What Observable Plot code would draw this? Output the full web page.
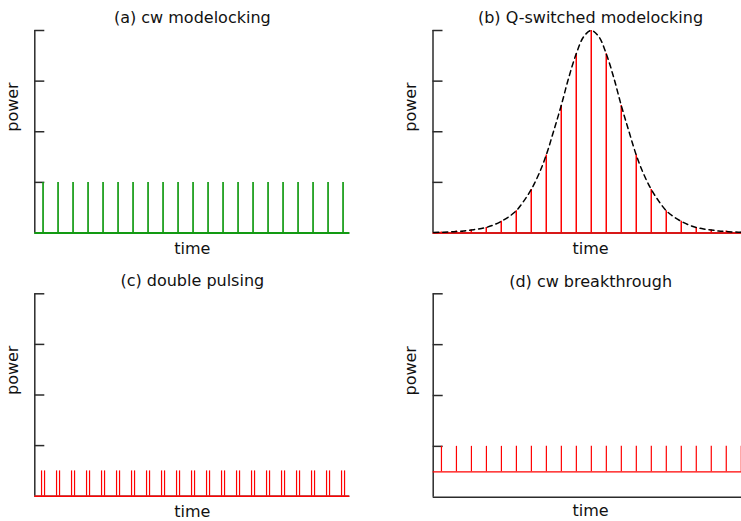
<!DOCTYPE html>
<html>
<head>
<meta charset="utf-8">
<script src="https://cdn.jsdelivr.net/npm/d3@7"></script>
<script src="https://cdn.jsdelivr.net/npm/@observablehq/plot@0.6"></script>
<style>
html, body { margin: 0; padding: 0; background: #fff; }
#root { position: relative; width: 741px; height: 521px; overflow: hidden; background: #fff; }
#root > svg { position: absolute; }
</style>
</head>
<body>
<div id="root"></div>
<script>
// ---- data ----
const titles = ["(a) cw modelocking", "(b) Q-switched modelocking", "(c) double pulsing", "(d) cw breakthrough"];
const xLabel = "time";
const yLabel = "power";
const yTicks = [1, 2, 3, 4];

// pulse arrival times (pulse-period units)
const pulseTimes = [0.55, 1.55, 2.55, 3.55, 4.55, 5.55, 6.55, 7.55, 8.55, 9.55, 10.55,
                    11.55, 12.55, 13.55, 14.55, 15.55, 16.55, 17.55, 18.55, 19.55, 20.55];

// (a) cw modelocking: equal pulses
const cwHeights = [1, 1, 1, 1, 1, 1, 1, 1, 1, 1, 1, 1, 1, 1, 1, 1, 1, 1, 1, 1, 1];

// (b) Q-switched modelocking: pulse peaks
const qsHeights = [0.02, 0.04, 0.06, 0.11, 0.23, 0.44, 0.86, 1.54, 2.52, 3.54, 4.00,
                   3.54, 2.52, 1.54, 0.86, 0.44, 0.23, 0.11, 0.06, 0.04, 0.02];
// (b) dashed envelope, read every half period
const envTimes = [0.05, 0.55, 1.05, 1.55, 2.05, 2.55, 3.05, 3.55, 4.05, 4.55, 5.05, 5.55, 6.05, 6.55,
                  7.05, 7.55, 8.05, 8.55, 9.05, 9.55, 10.05, 10.55, 11.05, 11.55, 12.05, 12.55, 13.05,
                  13.55, 14.05, 14.55, 15.05, 15.55, 16.05, 16.55, 17.05, 17.55, 18.05, 18.55, 19.05,
                  19.55, 20.05, 20.55, 21.05];
const envValues = [0.01, 0.015, 0.02, 0.03, 0.04, 0.06, 0.08, 0.11, 0.16, 0.23, 0.32, 0.44, 0.63, 0.86,
                   1.16, 1.54, 2.02, 2.52, 3.07, 3.54, 3.88, 4.00, 3.88, 3.54, 3.07, 2.52, 2.02,
                   1.54, 1.16, 0.86, 0.63, 0.44, 0.32, 0.23, 0.16, 0.11, 0.08, 0.06, 0.04,
                   0.03, 0.02, 0.015, 0.01];

// (c) double pulsing: two spikes per period
const doubleSeparation = 0.2;
const doubleHeight = 0.5;

// (d) cw breakthrough: cw background plus pulses
const cwBackground = 0.5;
const breakPeak = 1.0;

// ---- drawing ----
const root = document.getElementById("root");
const axisColor = "#2b2b2b";
const green = "#129a12";
const red = "#ff0000";

const cwData = pulseTimes.map((t, i) => ({t, p: cwHeights[i]}));
const qsData = pulseTimes.map((t, i) => ({t, p: qsHeights[i]}));
const envData = envTimes.map((t, i) => ({t, p: envValues[i]}));
const dblData = pulseTimes.flatMap(t => [t - doubleSeparation / 2, t + doubleSeparation / 2]);

function panel({title, left, top, width, height, ml, mr, mt, mb, titleDy, labelDy, marks}) {
  const svg = Plot.plot({
    width, height,
    marginLeft: ml, marginRight: mr, marginTop: mt, marginBottom: mb,
    x: {domain: [0, 21], axis: null},
    y: {domain: [0, 4]},
    style: {fontFamily: "'DejaVu Sans', sans-serif", fontSize: "16px", color: "#111", background: "transparent", overflow: "visible"},
    marks: [
      Plot.axisY(yTicks, {tickSize: -10, tickFormat: () => "", stroke: axisColor, strokeWidth: 1.5, label: null}),
      Plot.ruleX([0], {stroke: axisColor, strokeWidth: 1.5}),
      Plot.ruleY([0], {stroke: axisColor, strokeWidth: 1.5}),
      ...marks,
      Plot.text([title], {text: d => d, frameAnchor: "top", lineAnchor: "bottom", dy: titleDy, fontSize: 16, fill: "#111"}),
      Plot.text([xLabel], {text: d => d, frameAnchor: "bottom", lineAnchor: "bottom", dy: labelDy, fontSize: 16, fill: "#111"}),
      Plot.text([yLabel], {text: d => d, frameAnchor: "left", lineAnchor: "bottom", rotate: -90, dx: -17, fontSize: 16, fill: "#111"})
    ]
  });
  svg.style.left = left + "px";
  svg.style.top = top + "px";
  root.append(svg);
}

// (a)
panel({
  title: titles[0], left: 0, top: 0, width: 370, height: 260,
  ml: 34.3, mr: 20.7, mt: 30, mb: 27.5, titleDy: -7.3, labelDy: 20.5,
  marks: [
    Plot.ruleX(cwData, {x: "t", y1: 0, y2: "p", stroke: green, strokeWidth: 1.7}),
    Plot.ruleY([0], {stroke: green, strokeWidth: 2})
  ]
});

// (b)
panel({
  title: titles[1], left: 370, top: 0, width: 377.5, height: 260,
  ml: 62.5, mr: 0, mt: 30, mb: 27.5, titleDy: -7.3, labelDy: 20.5,
  marks: [
    Plot.ruleX(qsData, {x: "t", y1: 0, y2: "p", stroke: red, strokeWidth: 1.5}),
    Plot.ruleY([0], {stroke: red, strokeWidth: 1.5}),
    Plot.line(envData, {x: "t", y: "p", curve: "catmull-rom", stroke: "#000", strokeWidth: 1.5, strokeDasharray: "5,4"})
  ]
});

// (c)
panel({
  title: titles[2], left: 0, top: 260, width: 370, height: 261,
  ml: 34.3, mr: 20.7, mt: 33.3, mb: 25.3, titleDy: -8.3, labelDy: 20.3,
  marks: [
    Plot.ruleX(dblData, {x: d => d, y1: 0, y2: doubleHeight, stroke: red, strokeWidth: 1.2}),
    Plot.ruleY([0], {stroke: red, strokeWidth: 1.5})
  ]
});

// (d)
panel({
  title: titles[3], left: 370, top: 260, width: 377.5, height: 261,
  ml: 62.7, mr: 0, mt: 33.3, mb: 24.3, titleDy: -7.3, labelDy: 18.5,
  marks: [
    Plot.ruleX(pulseTimes, {x: d => d, y1: cwBackground, y2: breakPeak, stroke: red, strokeWidth: 1.2}),
    Plot.ruleY([cwBackground], {stroke: red, strokeWidth: 1.2})
  ]
});
</script>
</body>
</html>
